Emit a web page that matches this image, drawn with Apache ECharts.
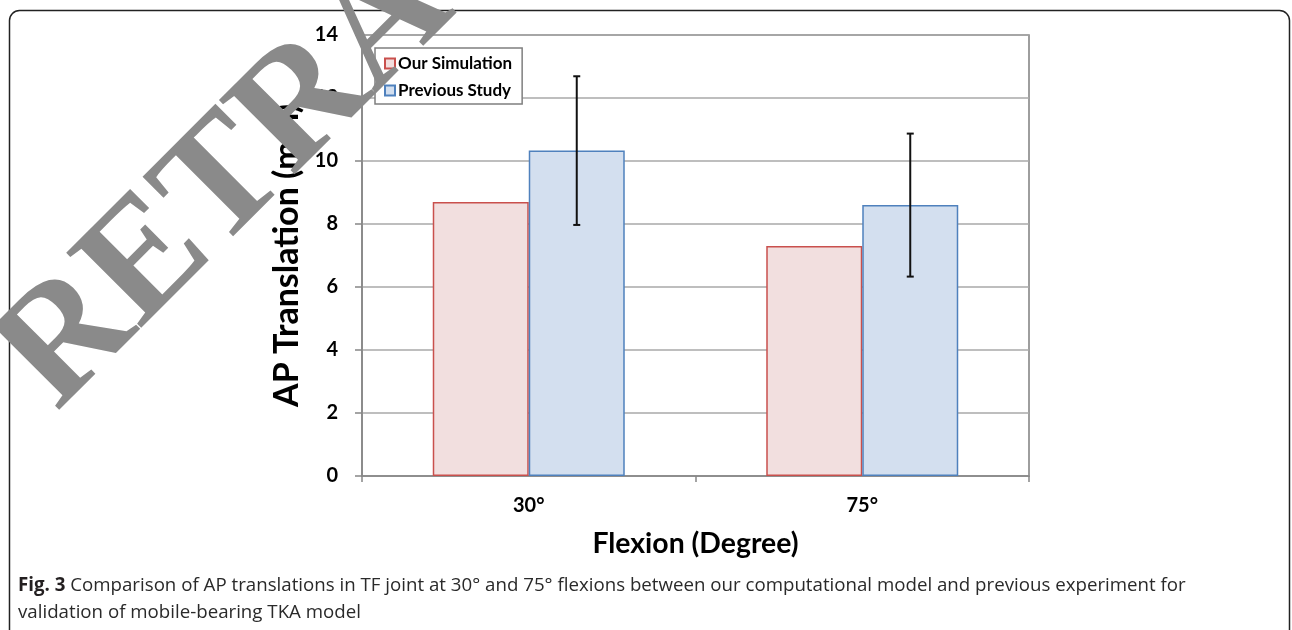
<!DOCTYPE html>
<html>
<head>
<meta charset="utf-8">
<script src="https://cdn.jsdelivr.net/npm/echarts@6/dist/echarts.min.js"></script>
<style>
html,body{margin:0;padding:0;background:#fff;}
#chart{width:1292px;height:630px;}
</style>
</head>
<body>
<div id="chart"></div>
<script>
// ---- data ----
const categories = ['30°', '75°'];
const seriesNames = ['Our Simulation', 'Previous Study'];
const ourSimulation = [8.7, 7.3];
const previousStudy = [10.33, 8.6];
const previousStudySD = [2.36, 2.27];
const yTicks = { min: 0, max: 14, interval: 2 };
const captionBold = 'Fig. 3';
const captionLine1 = ' Comparison of AP translations in TF joint at 30° and 75° flexions between our computational model and previous experiment for';
const captionLine2 = 'validation of mobile-bearing TKA model';
const watermark = 'RETRACTED';

// ---- layout / style ----
const BAR_W = 96;
const TF = 'Lato, "Open Sans", sans-serif';

const chart = echarts.init(document.getElementById('chart'));
chart.setOption({
  animation: false,
  backgroundColor: '#fff',
  grid: {
    left: 362, top: 35, right: 263, bottom: 154,
    containLabel: false, outerBoundsMode: 'none',
    show: true, borderColor: '#7f7f7f', borderWidth: 1.5, backgroundColor: 'transparent'
  },
  legend: {
    orient: 'vertical', left: 375, top: 48,
    padding: [6, 10, 4, 9], itemGap: 8,
    itemWidth: 10, itemHeight: 10, icon: 'rect',
    backgroundColor: '#fff', borderColor: '#7f7f7f', borderWidth: 1.5, borderRadius: 0,
    textStyle: { fontFamily: TF, fontWeight: 'bold', fontSize: 17, lineHeight: 19, color: '#000', padding: [0, 0, 0, -2] },
    data: seriesNames
  },
  xAxis: {
    type: 'category', data: categories,
    axisLine: { show: true, lineStyle: { color: '#868686', width: 1.5 } },
    axisTick: { show: true, alignWithLabel: false, length: 6, lineStyle: { color: '#868686', width: 1.5 } },
    axisLabel: { margin: 20, fontFamily: TF, fontWeight: 'bold', fontSize: 20, color: '#000' },
    name: 'Flexion (Degree)', nameLocation: 'middle', nameGap: 54,
    nameTextStyle: { fontFamily: TF, fontWeight: 'bold', fontSize: 28.4, color: '#000' }
  },
  yAxis: {
    type: 'value', min: yTicks.min, max: yTicks.max, interval: yTicks.interval,
    axisLine: { show: true, lineStyle: { color: '#868686', width: 1.5 } },
    axisTick: { show: true, length: 7, lineStyle: { color: '#868686', width: 1.5 } },
    splitLine: { show: true, lineStyle: { color: '#a8a8a8', width: 1.5 } },
    axisLabel: { margin: 24, fontFamily: TF, fontWeight: 'bold', fontSize: 20, color: '#000' },
    name: 'AP Translation (mm)', nameLocation: 'middle', nameGap: 58, nameRotate: 90,
    nameTextStyle: { fontFamily: TF, fontWeight: 'bold', fontSize: 34, color: '#000' }
  },
  series: [
    {
      name: seriesNames[0], type: 'bar', data: ourSimulation,
      barWidth: BAR_W, barGap: '0%',
      itemStyle: { color: '#f2dfdf', borderColor: '#c9504d', borderWidth: 1.5 }
    },
    {
      name: seriesNames[1], type: 'bar', data: previousStudy,
      barWidth: BAR_W, barGap: '0%',
      itemStyle: { color: '#d3dfef', borderColor: '#4f81bd', borderWidth: 1.5 }
    },
    {
      name: 'sd', type: 'custom', z: 5,
      data: categories.map((c, i) => [i, previousStudy[i], previousStudySD[i]]),
      encode: { x: 0, y: 1 },
      renderItem: function (params, api) {
        const i = api.value(0), m = api.value(1), s = api.value(2);
        const top = api.coord([i, m + s]);
        const bot = api.coord([i, m - s]);
        const x = top[0] + BAR_W / 2;
        const st = { stroke: '#111', lineWidth: 2 };
        return {
          type: 'group', children: [
            { type: 'line', shape: { x1: x, y1: top[1], x2: x, y2: bot[1] }, style: st },
            { type: 'line', shape: { x1: x - 3.5, y1: top[1], x2: x + 3.5, y2: top[1] }, style: st },
            { type: 'line', shape: { x1: x - 3.5, y1: bot[1], x2: x + 3.5, y2: bot[1] }, style: st }
          ]
        };
      }
    }
  ],
  graphic: [
    {
      type: 'rect', z: 0, silent: true,
      shape: { x: 9.5, y: 10.5, width: 1280, height: 660, r: 10 },
      style: { fill: 'none', stroke: '#222', lineWidth: 1.5 }
    },
    {
      type: 'text', left: 18, top: 572, z: 10,
      style: {
        text: '{b|' + captionBold + '}' + captionLine1 + '\n' + captionLine2,
        fontFamily: '"Open Sans", sans-serif', fontSize: 18.7, lineHeight: 27, fill: '#2a2a2a',
        rich: { b: { fontFamily: '"Open Sans", sans-serif', fontWeight: 'bold', fontSize: 18.7, lineHeight: 27, fill: '#231f20' } }
      }
    },
    {
      type: 'text', z: 100, silent: true,
      x: 27, y: 383, rotation: 45 * Math.PI / 180,
      style: {
        text: watermark, fontFamily: '"Liberation Serif", "DejaVu Serif", serif', fontWeight: 'bold',
        fontSize: 162, fill: '#8a8a8a', align: 'left', verticalAlign: 'middle'
      }
    }
  ]
});
</script>
</body>
</html>
